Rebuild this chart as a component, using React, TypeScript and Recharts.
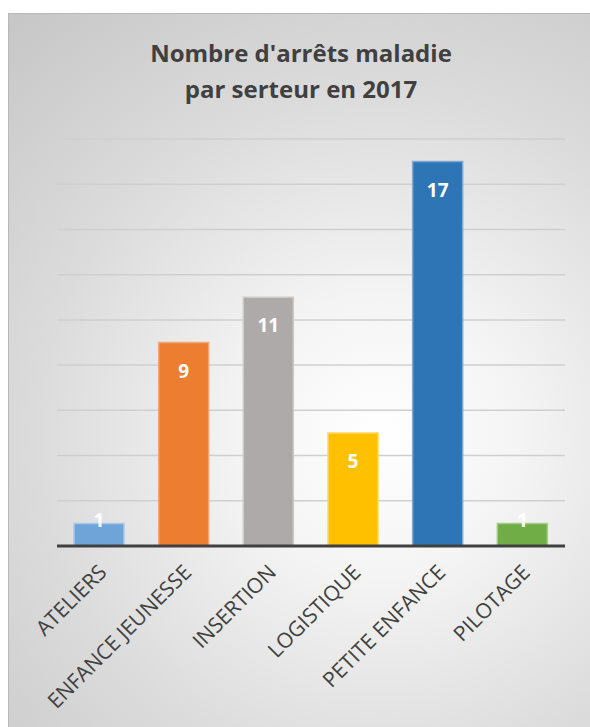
import React from 'react';
import { BarChart, Bar, XAxis, YAxis, CartesianGrid, LabelList, Cell } from 'recharts';

const categories = ['ATELIERS', 'ENFANCE JEUNESSE', 'INSERTION', 'LOGISTIQUE', 'PETITE ENFANCE', 'PILOTAGE'];
const values = [1, 9, 11, 5, 17, 1];
const colors = ['#6FA4D9', '#ED7D31', '#AEAAA9', '#FFC000', '#2E75B6', '#70AD47'];
const strokes = ['#A9C8EA', '#F4A877', '#CDCACA', '#FFD866', '#7FA8D3', '#A3CC88'];
const yTicks = [0, 2, 4, 6, 8, 10, 12, 14, 16, 18];
const titleLines = ["Nombre d'arrêts maladie", 'par serteur en 2017'];

const data = categories.map((c, i) => ({ name: c, value: values[i] }));

const FONT = '"Open Sans", "Noto Sans", sans-serif';

const ValueLabel = (props: any) => {
  const { x, y, width, height, value } = props;
  const cy = Math.min(y + 28, y + height - 26);
  return (
    <text
      x={x + width / 2}
      y={cy}
      textAnchor="middle"
      dominantBaseline="central"
      fill="#ffffff"
      fontFamily={FONT}
      fontWeight={700}
      fontSize={19}
    >
      {value}
    </text>
  );
};

const Tick = (props: any) => {
  const { x, y, payload } = props;
  return (
    <g transform={`translate(${x + 3},${y + 14}) rotate(-45)`}>
      <text
        x={0}
        y={0}
        textAnchor="end"
        dominantBaseline="central"
        fill="#404040"
        fontFamily={FONT}
        fontSize={21}
      >
        {payload.value}
      </text>
    </g>
  );
};

export default function App() {
  return (
    <div style={{ position: 'fixed', left: 0, top: 0, width: 590, height: 727, overflow: 'hidden', background: '#fff' }}>
      <div
        style={{
          position: 'absolute',
          left: 8,
          top: 13,
          width: 600,
          height: 730,
          boxSizing: 'border-box',
          borderTop: '1px solid #b8b8b8',
          borderLeft: '1px solid #b8b8b8',
          background: 'radial-gradient(circle at 62% 58%, #ffffff 0%, #f4f4f4 25%, #dcdcdc 60%, #c6c6c6 100%)',
        }}
      >
        <div
          style={{
            position: 'absolute',
            left: -1,
            top: 21,
            width: 586,
            textAlign: 'center',
            fontFamily: FONT,
            fontWeight: 700,
            fontSize: 24,
            lineHeight: '36px',
            color: '#404040',
          }}
        >
          <div>{titleLines[0]}</div>
          <div>{titleLines[1]}</div>
        </div>
        <div style={{ position: 'absolute', left: -1, top: -1 }}>
          <BarChart width={582} height={714} data={data} margin={{ top: 126, right: 25, left: 49, bottom: 0 }}>
            <CartesianGrid vertical={false} stroke="#cfcfcf" strokeWidth={1.5} />
            <YAxis hide domain={[0, 18]} ticks={yTicks} />
            <XAxis
              dataKey="name"
              interval={0}
              height={181}
              tickLine={false}
              axisLine={{ stroke: '#404040', strokeWidth: 3 }}
              tick={<Tick />}
            />
            <Bar dataKey="value" barSize={50} isAnimationActive={false} strokeWidth={1.5}>
              {data.map((d, i) => (
                <Cell key={d.name} fill={colors[i]} stroke={strokes[i]} />
              ))}
              <LabelList dataKey="value" content={<ValueLabel />} />
            </Bar>
          </BarChart>
        </div>
      </div>
    </div>
  );
}
